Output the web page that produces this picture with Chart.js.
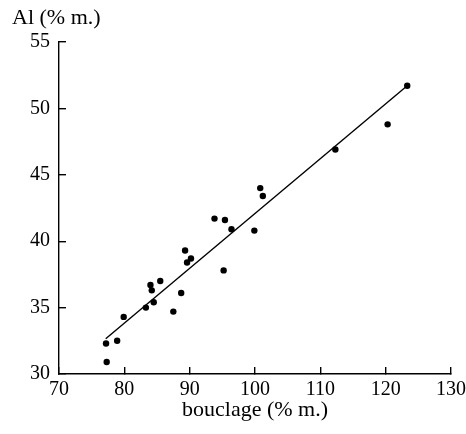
<!DOCTYPE html>
<html>
<head>
<meta charset="utf-8">
<script src="https://cdn.jsdelivr.net/npm/chart.js@4/dist/chart.umd.min.js"></script>
<style>
  html, body { margin: 0; padding: 0; background: #fff; }
  #wrap { width: 466px; height: 434px; }
</style>
</head>
<body>
<div id="wrap"><canvas id="chart" width="466" height="434"></canvas></div>
<script>
// bouclage vs Al, both in % m.
const bouclage = [77.2, 77.3, 78.9, 79.9, 83.3, 84.0, 84.2, 84.5, 85.5, 87.5, 88.7, 89.3,
                  89.6, 90.2, 93.8, 95.2, 95.4, 96.4, 99.9, 100.8, 101.2, 112.3, 120.3, 123.3];
const al = [32.3, 30.9, 32.5, 34.3, 35.0, 36.7, 36.3, 35.4, 37.0, 34.7, 36.1, 39.3,
            38.4, 38.7, 41.7, 37.8, 41.6, 40.9, 40.8, 44.0, 43.4, 46.9, 48.8, 51.7];

// fitted line end points
const fitX = [77.15, 123.3];
const fitY = [32.66, 51.7];

const xTicks = [70, 80, 90, 100, 110, 120, 130];
const yTicks = [30, 35, 40, 45, 50, 55];

const serif = '"Liberation Serif", "Times New Roman", serif';

// tick marks only, drawn inward (negative length), no grid in the plot
const tickMarks = {
  display: true,
  drawOnChartArea: false,
  drawTicks: true,
  tickLength: -7,
  color: '#000',
  lineWidth: 1.4
};

new Chart(document.getElementById('chart'), {
  type: 'scatter',
  data: {
    datasets: [{
      type: 'line',
      data: fitX.map((x, i) => ({ x: x, y: fitY[i] })),
      borderColor: '#000',
      borderWidth: 1.4,
      pointRadius: 0,
      fill: false
    }, {
      data: bouclage.map((x, i) => ({ x: x, y: al[i] })),
      backgroundColor: '#000',
      borderColor: '#000',
      pointRadius: 3.2,
      pointBorderWidth: 0
    }]
  },
  options: {
    responsive: false,
    animation: false,
    layout: { padding: { left: 12, right: 15, top: 0, bottom: 0 } },
    plugins: {
      legend: { display: false },
      tooltip: { enabled: false },
      title: {
        display: true,
        text: 'Al (% m.)',
        align: 'start',
        color: '#000',
        font: { family: serif, size: 22, weight: 'normal' },
        padding: { top: 5, bottom: 10.6 }
      }
    },
    scales: {
      x: {
        type: 'linear',
        min: 70,
        max: 130,
        afterBuildTicks: s => { s.ticks = xTicks.map(v => ({ value: v })); },
        afterFit: s => {
          s.height = 60;
          s.paddingLeft = 0;
          s.paddingRight = 0;
        },
        grid: tickMarks,
        border: { display: true, color: '#000', width: 1.4 },
        ticks: {
          color: '#000',
          padding: 11,
          font: { family: serif, size: 20 }
        },
        title: {
          display: true,
          text: 'bouclage (% m.)',
          color: '#000',
          font: { family: serif, size: 22 },
          padding: { top: 0, bottom: 11 }
        }
      },
      y: {
        type: 'linear',
        min: 30,
        max: 55,
        afterBuildTicks: s => { s.ticks = yTicks.map(v => ({ value: v })); },
        afterFit: s => { s.width = 47; },
        grid: tickMarks,
        border: { display: true, color: '#000', width: 1.4 },
        ticks: {
          color: '#000',
          padding: 16,
          font: { family: serif, size: 20 }
        }
      }
    }
  }
});
</script>
</body>
</html>
